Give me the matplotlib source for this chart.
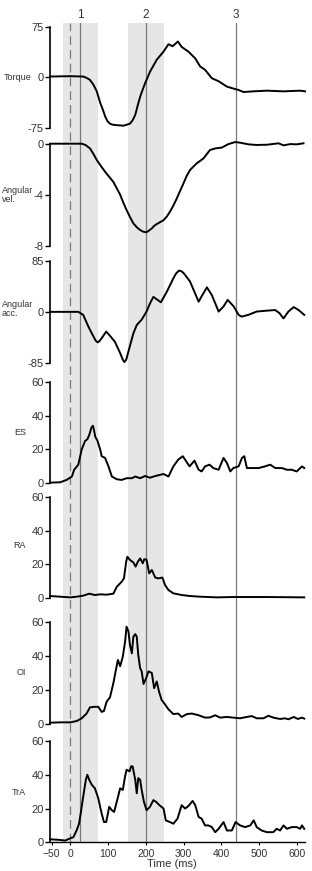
import matplotlib
matplotlib.use("Agg")
import matplotlib.pyplot as plt
import numpy as np

plt.rcParams['font.family'] = ['Liberation Sans', 'DejaVu Sans']

# event markers (ms)
events = [26, 200, 438]
event_labels = ['1', '2', '3']
bands = [(-20, 72), (153, 247)]

# Torque
t_torque = [-54, 0, 34, 43, 52, 61, 70, 79, 86, 92, 98, 105, 112, 118, 141, 158, 165, 172,
            178, 185, 192, 198, 205, 211, 220, 229, 238, 247, 260, 271, 285, 295, 313, 331,
            344, 357, 375, 393, 415, 433, 446, 459, 485, 521, 565, 609, 622]
torque = [1, 1.5, 1, -1, -4, -11, -21, -38, -48, -58, -65, -69, -70.5, -71, -72, -69, -64,
          -56, -43, -29, -18, -9, 0, 8, 17, 26, 32, 38, 49, 46, 53, 45, 38, 28,
          16, 11, -1.5, -6, -14, -17, -19, -22, -21, -20, -21, -20, -21]

# Angular velocity
t_vel = [-54, 0, 30, 40, 52, 61, 70, 81, 92, 103, 114, 123, 132, 140, 149, 158, 167, 176,
         185, 193, 202, 209, 216, 222, 229, 238, 247, 256, 264, 273, 282, 291, 300, 308,
         317, 326, 335, 344, 353, 362, 370, 384, 401, 419, 437, 450, 472, 494, 521, 552,
         565, 583, 600, 618]
vel = [0, 0, 0, -0.1, -0.37, -0.8, -1.28, -1.75, -2.2, -2.6, -3.0, -3.5, -4.0, -4.6,
       -5.2, -5.75, -6.25, -6.55, -6.77, -6.9, -6.95, -6.8, -6.64, -6.45, -6.3, -6.15,
       -6.0, -5.7, -5.33, -4.85, -4.3, -3.7, -3.1, -2.55, -2.07, -1.8, -1.54, -1.35,
       -1.15, -0.8, -0.5, -0.37, -0.31, -0.03, 0.13, 0.08, -0.05, -0.1, -0.08, 0.03,
       -0.13, -0.03, -0.05, 0.03]

# Angular acceleration
t_acc = [-54, 0, 21, 34, 48, 61, 67, 72, 77, 83, 95, 105, 118, 132, 139, 143, 148, 154,
         167, 176, 189, 202, 211, 220, 229, 240, 256, 273, 280, 288, 294, 300, 317, 340,
         348, 362, 375, 393, 406, 417, 433, 446, 454, 472, 494, 521, 543, 554, 565, 578,
         592, 605, 620]
acc = [0, 0, 0, -5, -25, -41, -48, -51, -49, -44, -33, -40, -50, -69, -80, -84, -80, -66,
       -36, -22, -13, 0.5, 14, 25, 21, 16, 34, 56, 64, 69, 68, 65, 51, 17,
       26, 41, 28, 0.5, 9, 20, 9, -5, -8, -5, 0.5, 2, 3, -2, -11, 0.5,
       8, 3, -5]

# ES
t_es = [-54, -27, -10, 4, 10, 21, 30, 39, 45, 50, 56, 60, 63, 66, 72, 79, 83, 92, 101, 110,
        123, 136, 149, 163, 172, 185, 198, 211, 225, 238, 247, 260, 273, 286, 298, 307, 316,
        329, 340, 348, 357, 369, 379, 393, 406, 415, 424, 432, 446, 455, 461, 468, 481, 499,
        516, 530, 543, 561, 574, 587, 600, 614, 620]
es = [0.4, 0.6, 2, 4, 8, 11, 20, 25, 26, 28.5, 33, 34, 31, 27.5, 25, 20, 16, 15, 10, 4,
      2.4, 2, 3, 3, 4, 3, 4.3, 3.3, 4.3, 5, 5.5, 4, 10, 14, 16, 13, 10,
      13.4, 8, 7, 10, 11, 9, 8, 15, 12, 7, 9, 10, 15, 16, 9, 9, 9,
      10, 11, 9, 9, 8, 8, 7, 10, 9]

# RA
t_ra = [-54, -27, 0, 17, 34, 50, 65, 79, 96, 114, 123, 136, 142, 148, 151, 158, 167, 173,
        179, 185, 192, 196, 202, 209, 216, 225, 233, 244, 251, 260, 273, 295, 317, 344,
        388, 432, 521, 620]
ra = [1, 0.6, 0.2, 0.6, 1.2, 2.4, 1.6, 2, 1.8, 2.4, 6.5, 9.5, 11.5, 21.5, 24.4, 22.5, 21,
      18.5, 21.5, 23.4, 20.5, 23, 22.5, 14.5, 16.5, 12, 11.5, 12, 7.5, 4.6, 2.6, 1.6, 1, 0.6,
      0.2, 0.4, 0.4, 0.2]

# OI
t_oi = [-54, -27, 0, 17, 30, 43, 52, 65, 74, 83, 89, 96, 105, 114, 120, 126, 132, 139, 145,
        149, 154, 158, 163, 167, 172, 176, 180, 185, 189, 194, 201, 207, 216, 222, 229, 235,
        242, 251, 260, 273, 286, 295, 309, 322, 340, 357, 370, 384, 397, 415, 432, 450, 468,
        481, 494, 512, 525, 538, 556, 569, 578, 592, 603, 614, 620]
oi = [0.6, 0.8, 0.8, 1.6, 3.2, 6, 9.7, 10, 10, 7, 7.5, 13, 15.6, 24, 31, 37.7, 34, 39.7, 48.5,
      57.4, 54.5, 46.6, 41.6, 51.5, 53, 51.5, 40.7, 32.8, 31, 23.5, 27, 31, 30, 21, 25, 19,
      14, 11.4, 8.5, 5.7, 6, 4, 5.7, 6, 5, 3.6, 3.7, 5, 3.6, 4, 3.6, 3.2, 4,
      4.5, 3.2, 3.2, 4.7, 3.6, 2.8, 3.2, 2.6, 4, 2.8, 3.6, 3]

# TrA
t_tra = [-54, -27, -14, 0, 8, 17, 23, 28, 34, 41, 45, 50, 57, 65, 74, 83, 89, 95, 103, 110,
         116, 123, 132, 139, 145, 149, 157, 161, 165, 172, 176, 180, 185, 189, 195, 202, 211,
         220, 227, 236, 247, 253, 264, 273, 284, 295, 304, 313, 324, 331, 340, 348, 357, 366,
         375, 384, 393, 406, 415, 428, 438, 450, 463, 477, 486, 494, 507, 521, 538, 547, 556,
         565, 574, 587, 600, 609, 614, 620]
tra = [1.8, 1.4, 1, 2.4, 3, 7.3, 11, 18, 27, 37, 40, 37, 34, 32, 26, 17, 12, 12, 21, 19,
       18, 24, 32, 31, 39, 43, 42, 45, 45, 37, 29, 38, 37, 31, 24, 19, 21,
       25, 24, 22, 20, 13, 12, 11, 14, 22, 20, 21.5, 24.5, 22, 15, 14, 10, 10,
       9, 6, 8, 12, 7, 7, 12, 10, 9, 10, 13, 9, 7, 6, 6, 8, 7,
       10, 8, 9, 9, 8, 10, 8]

panels = [
    (t_torque, torque, (-75, 75), [-75, 0, 75], 26.7, 127.7),
    (t_vel, vel, (-8, 0), [-8, -4, 0], 143.7, 245.7),
    (t_acc, acc, (-85, 85), [-85, 0, 85], 261, 362.7),
    (t_es, es, (0, 60), [0, 20, 40, 60], 381.7, 483.3),
    (t_ra, ra, (0, 60), [0, 20, 40, 60], 497, 597.7),
    (t_oi, oi, (0, 60), [0, 20, 40, 60], 622.3, 723.7),
    (t_tra, tra, (0, 60), [0, 20, 40, 60], 741, 842.3),
]

W, H = 312, 871
xmin, xmax = -54, 622
ax_left, ax_right = 50, 305

fig = plt.figure(figsize=(W / 100, H / 100), dpi=100)

def rect(top, bottom):
    return [ax_left / W, 1 - bottom / H, (ax_right - ax_left) / W, (bottom - top) / H]

# background: shaded windows and event lines
bg = fig.add_axes(rect(23, 842.3))
bg.set_xlim(xmin, xmax)
bg.set_ylim(0, 1)
bg.axis('off')
for a, b in bands:
    bg.axvspan(a, b, color='#e6e6e6', lw=0)
for e in events:
    bg.axvline(e, color='#7a7a7a', lw=0.9)
bg.axvline(0, color='#7a7a7a', lw=0.9, dashes=(7, 4))
for e, lab in zip(events, event_labels):
    bg.text(e, 1.003, lab, ha='center', va='bottom', fontsize=8.5, color='#333333')

axes = []
for i, (t, y, ylim, ticks, top, bottom) in enumerate(panels):
    ax = fig.add_axes(rect(top, bottom))
    ax.patch.set_alpha(0)
    ax.plot(t, y, color='black', lw=1.4, clip_on=False)
    ax.set_xlim(xmin, xmax)
    ax.set_ylim(*ylim)
    ax.set_yticks(ticks)
    ax.set_yticklabels([str(v) for v in ticks])
    for s in ['top', 'right']:
        ax.spines[s].set_visible(False)
    ax.spines['left'].set_linewidth(1.2)
    ax.tick_params(axis='y', length=3.5, width=1, labelsize=8, labelcolor='#333333', pad=1)
    if i < len(panels) - 1:
        ax.spines['bottom'].set_visible(False)
        ax.set_xticks([])
    else:
        ax.spines['bottom'].set_linewidth(1.0)
        ax.set_xticks([-50, 0, 100, 200, 300, 400, 500, 600])
        ax.tick_params(axis='x', length=2.5, width=0.8, labelsize=7.5, labelcolor='#333333', pad=2)
    axes.append(ax)

def ftext(x, y, s, **kw):
    fig.text(x / W, 1 - y / H, s, color='#333333', **kw)

ftext(32, 77.3, 'Torque', ha='right', va='center', fontsize=6.5)
ftext(1.5, 195, 'Angular\nvel.', ha='left', va='center', fontsize=6.5, linespacing=1.1)
ftext(1.5, 309, 'Angular\nacc.', ha='left', va='center', fontsize=6.5, linespacing=1.1)
ftext(20, 432, 'ES', ha='center', va='center', fontsize=6.5)
ftext(20, 545, 'RA', ha='center', va='center', fontsize=6.5)
ftext(21, 672, 'OI', ha='center', va='center', fontsize=6.5)
ftext(18.5, 792, 'TrA', ha='center', va='center', fontsize=6.5)
ftext(172, 869, 'Time (ms)', ha='center', va='bottom', fontsize=8)

fig.savefig('out.png', dpi=100)
